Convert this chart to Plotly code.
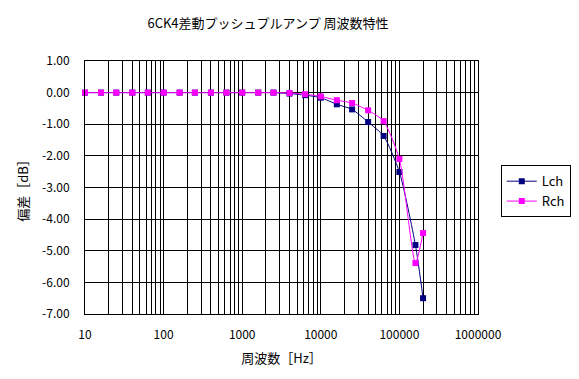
import plotly.graph_objects as go

freq = [10, 16, 25, 40, 63, 100, 160, 250, 400, 630, 1000, 1600, 2500, 4000,
        6300, 10000, 16000, 25000, 40000, 63000, 100000, 160000, 200000]
lch = [0.00, 0.00, 0.00, 0.00, 0.00, 0.00, 0.00, 0.00, 0.00, 0.00, 0.00, 0.00, 0.00, -0.03,
       -0.08, -0.16, -0.37, -0.53, -0.93, -1.37, -2.51, -4.82, -6.50]
rch = [0.00, 0.00, 0.00, 0.00, 0.00, 0.00, 0.00, 0.00, 0.00, 0.00, 0.00, 0.00, 0.00, -0.01,
       -0.05, -0.12, -0.24, -0.33, -0.56, -0.90, -2.10, -5.39, -4.44]

x_major = [10, 100, 1000, 10000, 100000, 1000000]
x_minor = [m * d for d in [10, 100, 1000, 10000, 100000] for m in range(2, 10)]
y_ticks = [1, 0, -1, -2, -3, -4, -5, -6, -7]

title = "6CK4差動プッシュプルアンプ 周波数特性"
xlabel = "周波数［Hz］"
ylabel = "偏差［dB］"

FONT = "Noto Sans CJK JP"
W, H = 571, 371  # page body has an 8px default margin

fig = go.Figure()
fig.add_trace(go.Scatter(x=freq, y=lch, name="Lch", mode="lines+markers",
                         line=dict(color="#000080", width=1, shape="spline", smoothing=0.6),
                         marker=dict(symbol="square", size=6, color="#000080"),
                         cliponaxis=False))
fig.add_trace(go.Scatter(x=freq, y=rch, name="Rch", mode="lines+markers",
                         line=dict(color="#FF00FF", width=1, shape="spline", smoothing=0.6),
                         marker=dict(symbol="square", size=6, color="#FF00FF"),
                         cliponaxis=False))

fig.update_layout(
    width=W, height=H,
    paper_bgcolor="white", plot_bgcolor="white",
    margin=dict(l=77, r=101, t=53, b=65, autoexpand=False),
    font=dict(family=FONT, size=12, color="black"),
    title=dict(text=title, x=260/W, xanchor="center", y=1-15/H, yanchor="middle",
               font=dict(family=FONT, size=13, color="black"), automargin=False),
    showlegend=True,
    legend=dict(x=1.058, y=0.588, xanchor="left", yanchor="top",
                bordercolor="black", borderwidth=1, bgcolor="white",
                font=dict(family=FONT, size=13, color="black"),
                tracegroupgap=0, itemwidth=30),
)
fig.update_xaxes(type="log", range=[1, 6], tickmode="array", tickvals=x_major,
                 ticktext=[str(v) for v in x_major], automargin=False,
                 showgrid=True, gridcolor="black", gridwidth=1,
                 minor=dict(tickmode="array", tickvals=x_minor, showgrid=True,
                            gridcolor="black", gridwidth=1),
                 showline=True, linecolor="black", linewidth=1, mirror=True,
                 ticks="", ticklabelstandoff=10, zeroline=False,
                 title=dict(text=xlabel, standoff=12, font=dict(family=FONT, size=13)))
fig.update_yaxes(range=[-7, 1], tickmode="array", tickvals=y_ticks,
                 ticktext=[f"{v:.2f}" for v in y_ticks], automargin=False,
                 showgrid=True, gridcolor="black", gridwidth=1,
                 showline=True, linecolor="black", linewidth=1, mirror=True,
                 ticks="", ticklabelstandoff=12, zeroline=False,
                 title=dict(text=ylabel, standoff=10, font=dict(family=FONT, size=13)))

fig.write_html("out.html")
